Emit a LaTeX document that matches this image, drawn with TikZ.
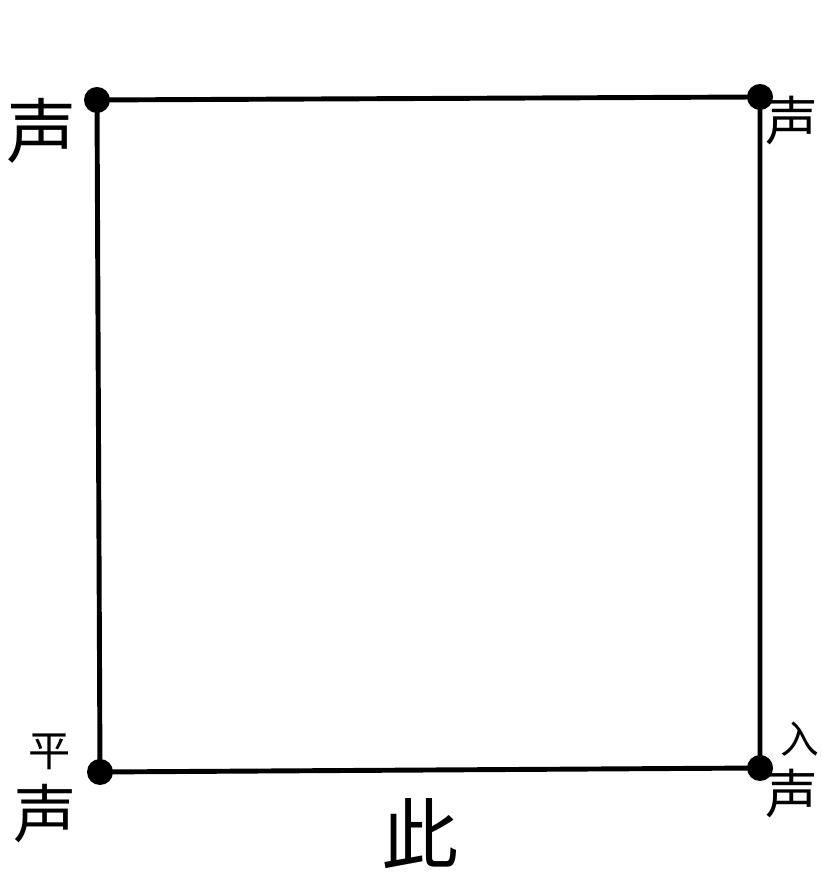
\documentclass[tikz,border=0pt]{standalone}
\usepackage{fontspec}
\newfontfamily\cjk{Noto Sans CJK SC}
\usetikzlibrary{calc}

\begin{document}
\begin{tikzpicture}[line width=1.4pt, line join=round]
    \useasboundingbox (0,0) rectangle (8.21,8.76);
    \coordinate (A) at (1.00,1.04);
    \coordinate (B) at (0.97,7.76);
    \coordinate (C) at (7.60,7.79);
    \coordinate (D) at (7.60,1.08);
    \draw (A) -- (B) -- (C) -- (D) -- cycle;
    \foreach \p in {A,B,C,D} \fill (\p) circle (0.13);
    \node[font=\cjk\fontsize{20}{20}\selectfont] (sB) at (0.42,7.45) {声};
    \node[font=\cjk\fontsize{15}{15}\selectfont] (sC) at (7.92,7.55) {声};
    \node[font=\cjk\fontsize{12}{12}\selectfont] (pA) at (0.50,1.24) {平};
    \node[font=\cjk\fontsize{18}{18}\selectfont] (sA) at (0.45,0.62) {声};
    \node[font=\cjk\fontsize{11}{11}\selectfont] (rD) at (8.00,1.37) {入};
    \node[font=\cjk\fontsize{15}{15}\selectfont] (sD) at (7.92,0.82) {声};
    \node[font=\cjk\fontsize{22}{22}\selectfont] (ci) at (4.20,0.42) {此};
\end{tikzpicture}
\end{document}
